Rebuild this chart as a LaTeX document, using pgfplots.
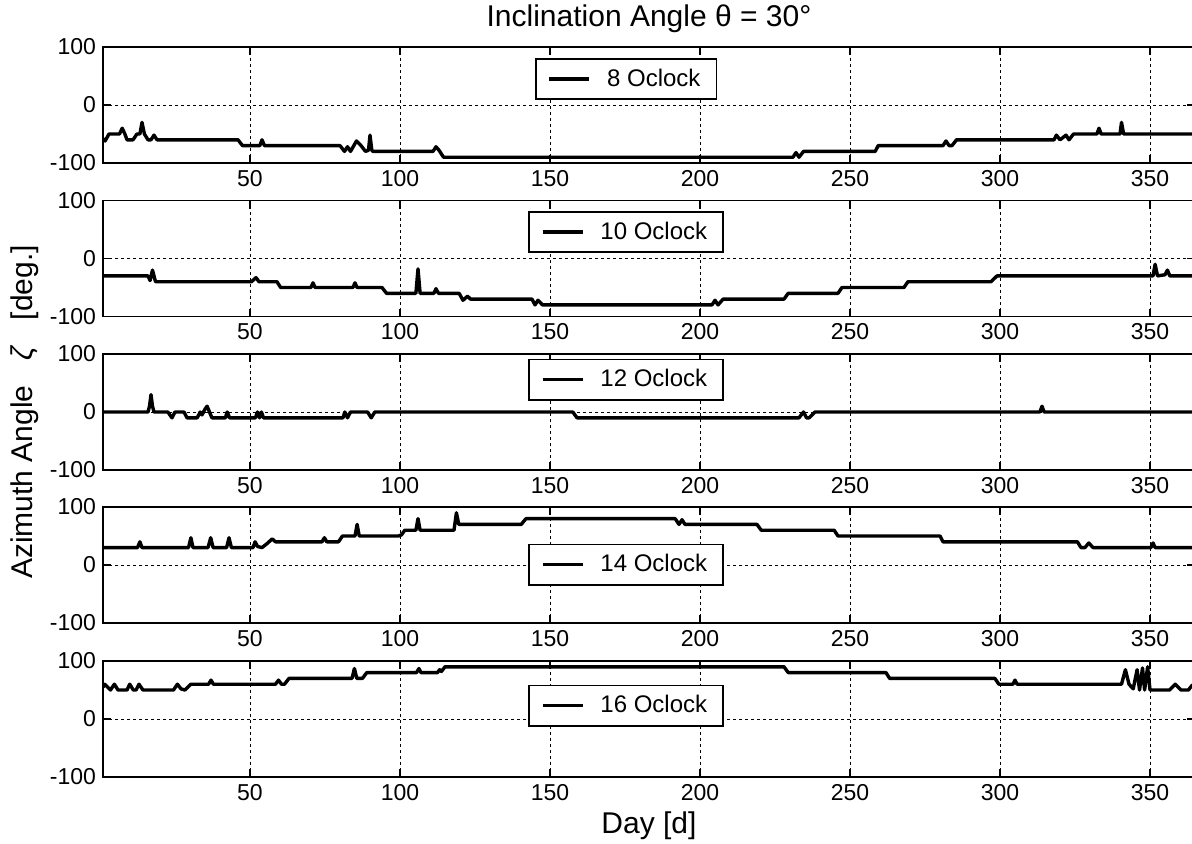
\documentclass[border=0pt]{standalone}
\usepackage{fontspec}
\setmainfont{Liberation Sans}
\usepackage{pgfplots}
\pgfplotsset{compat=1.18}
\tikzset{series/.style={black, line width=1.7pt, line join=round, mark=none}}
\pgfplotsset{
  panel/.style={
    scale only axis, width=546pt, height=58pt, anchor=south west,
    xmin=1, xmax=365, ymin=-100, ymax=100,
    xtick={50,100,150,200,250,300,350}, ytick={-100,0,100},
    xticklabels={50,100,150,200,250,300,350}, yticklabels={-100,0,100},
    tick align=inside, major tick length=4pt,
    tick style={line width=0.8pt, black},
    axis line style={line width=0.9pt},
    grid=major, major grid style={black, line width=0.5pt, dash pattern=on 1.5pt off 1.5pt},
    ticklabel style={font=\fontsize{11.5}{13}\selectfont},
    legend style={anchor=center, draw=black, line width=0.8pt, font=\fontsize{12}{14}\selectfont, inner xsep=6pt, inner ysep=3pt},
    legend image code/.code={\draw[line width=1.7pt] (0pt,0pt) -- (20pt,0pt); \path (26pt,0pt);},
  }
}
\begin{document}
\begin{tikzpicture}
\useasboundingbox (0,0) rectangle (596pt,421.5pt);
% ---------- 8 Oclock
\begin{axis}[panel, at={(51.5pt,340pt)}, legend style={at={(0.479,0.724)}}]
\addplot[series] coordinates {(1,-58) (1.7,-62) (3,-50) (6.5,-50) (7.4,-40) (8.3,-50) (9,-60) (11,-60) (12.3,-50) (13.3,-50) (14,-30) (14.8,-50) (16,-60) (17,-60) (18,-52) (19,-60) (46,-60) (47.5,-70) (53.3,-70) (54,-60) (54.8,-70) (80,-70) (81.5,-80) (82.5,-72) (83.5,-80) (85.5,-62) (87,-70) (88.5,-80) (89.5,-78) (90,-52) (90.6,-78) (91,-80) (111,-80) (112,-72) (113,-78) (114.5,-90) (231,-90) (232,-82) (233,-90) (234.5,-80) (258.4,-80) (259.4,-70) (281,-70) (282,-62) (283,-70) (284,-70) (285.5,-60) (318,-60) (318.8,-52) (320,-60) (322,-52) (323,-60) (324.5,-50) (332.3,-50) (333,-40) (333.7,-50) (340,-50) (340.5,-30) (341.2,-50) (365,-50)};
\addlegendentry{8 Oclock}
\end{axis}
% ---------- 10 Oclock
\begin{axis}[panel, at={(51.5pt,263.25pt)}, legend style={at={(0.479,0.728)}}]
\addplot[series] coordinates {(1,-30) (16,-30) (16.7,-38) (17.5,-20) (18.5,-40) (50.5,-40) (52,-33) (53,-40) (59,-40) (60.2,-50) (70.3,-50) (71,-42) (71.7,-50) (84.3,-50) (85,-42) (85.7,-50) (94,-50) (95.5,-60) (105.3,-60) (106,-18) (106.7,-60) (111.3,-60) (112,-52) (112.8,-60) (119.7,-60) (121,-72) (122.5,-65) (123.5,-70) (144,-70) (145,-80) (146,-72) (147.5,-80) (204,-80) (205,-72) (206,-80) (207.7,-70) (228,-70) (229.4,-60) (246,-60) (247.3,-50) (268,-50) (269.3,-40) (297,-40) (299,-30) (351,-30) (351.7,-10) (352.5,-30) (355,-28) (355.8,-20) (356.6,-30) (365,-30)};
\addlegendentry{10 Oclock}
\end{axis}
% ---------- 12 Oclock
\begin{axis}[panel, at={(51.5pt,186.5pt)}, legend style={at={(0.479,0.78)}}]
\addplot[series] coordinates {(1,0) (16,0) (16.5,10) (17,30) (17.5,10) (18,0) (22.6,0) (24,-10) (25,0) (28,0) (29,-10) (32.4,-10) (33.4,0) (34,-5) (35,5) (35.7,10) (36.5,0) (37.3,-10) (41.8,-10) (42.4,0) (43.2,-10) (51.8,-10) (52.5,0) (53.2,-10) (53.8,0) (54.5,-10) (81,-10) (81.6,0) (82.5,-10) (83.5,0) (89.2,0) (90.4,-10) (91.6,0) (157.6,0) (159,-10) (233,-10) (234.5,0) (235.5,-10) (236.4,-10) (238.3,0) (313.3,0) (314,10) (314.7,0) (365,0)};
\addlegendentry{12 Oclock}
\end{axis}
% ---------- 14 Oclock
\begin{axis}[panel, at={(51.5pt,110pt)}, legend style={at={(0.479,0.503)}}]
\addplot[series] coordinates {(1,30) (12.5,30) (13.3,40) (14,30) (29.5,30) (30.3,47) (31,30) (36,30) (36.9,47) (37.7,30) (42.2,30) (43,47) (43.8,30) (51,30) (51.7,40) (52.5,32) (54,30) (55.7,37) (57.4,45) (58.5,40) (74,40) (74.8,47) (75.6,40) (79.5,40) (80.8,50) (85,50) (85.7,70) (86.4,50) (99.5,50) (100.5,52) (101.6,60) (105.3,60) (106,80) (106.7,60) (118,60) (118.8,90) (119.6,70) (140.4,70) (142,80) (191.7,80) (193,70) (194,78) (195,70) (219,70) (220.4,60) (244.7,60) (246,50) (280,50) (281,40) (325.8,40) (327,30) (328.3,30) (329.6,38) (331,30) (350.3,30) (351,38) (351.7,30) (365,30)};
\addlegendentry{14 Oclock}
\end{axis}
% ---------- 16 Oclock
\begin{axis}[panel, at={(51.5pt,33pt)}, legend style={at={(0.479,0.616)}}]
\addplot[series] coordinates {(1,55) (1.6,60) (3.5,50) (4.8,60) (6,50) (9,50) (9.9,60) (11.1,50) (12,50) (13,60) (14.3,50) (24.5,50) (25.8,60) (27,52) (28.3,50) (30.3,60) (36.2,60) (37,67) (37.8,60) (58.5,60) (59.5,67) (60.5,60) (61.5,60) (63,70) (84,70) (84.8,87) (85.6,70) (87.5,70) (88.9,80) (105.5,80) (106.3,87) (107,80) (112.5,80) (113.2,85) (113.8,82) (115,90) (228,90) (229.4,80) (262,80) (263.2,70) (298.3,70) (299.6,60) (304.3,60) (305,67) (305.7,60) (340.5,60) (341.8,85) (343,60) (344.4,52) (345.7,85) (346.5,50) (347.5,88) (348.2,50) (349.2,90) (350,50) (356.5,50) (358.4,60) (360.3,50) (362.8,50) (364,58) (365,60)};
\addlegendentry{16 Oclock}
\end{axis}
% ---------- titles
\node[font=\fontsize{15}{17}\selectfont] at (324.5pt,412pt) {Inclination Angle θ = 30°};
\node[font=\fontsize{15}{17}\selectfont] at (324.5pt,8.5pt) {Day [d]};
\node[font=\fontsize{15}{17}\selectfont, rotate=90] at (12.5pt,215.5pt) {Azimuth Angle\ \ \ \textit{ζ}\ \ \ [deg.]};
\end{tikzpicture}
\end{document}
